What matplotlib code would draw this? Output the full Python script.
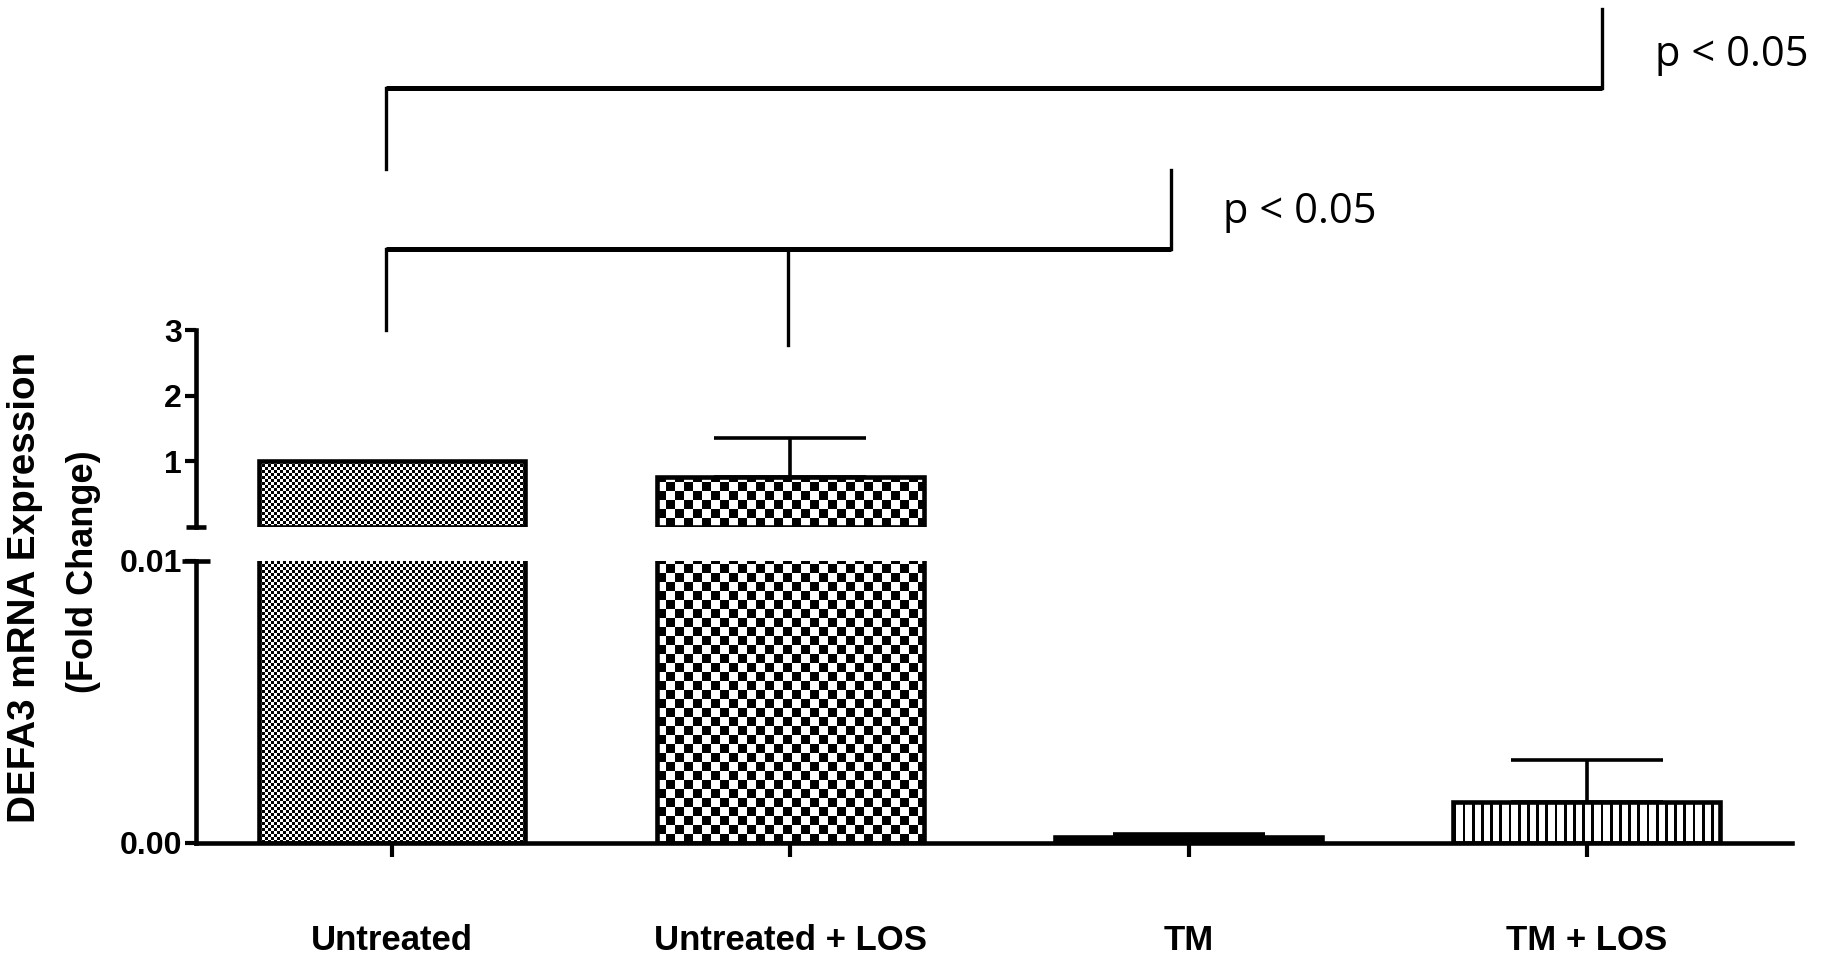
import numpy as np
import matplotlib
matplotlib.use("Agg")
from matplotlib import pyplot as plt

# data
groups = ["Untreated", "Untreated + LOS", "TM", "TM + LOS"]
fold_change = [1.0, 0.76, 0.0002, 0.00145]
sem = [0.0, 0.60, 0.00012, 0.00149]
fills = ["fine", "coarse", "solid", "stripes"]

upper_ticks = [1, 2, 3]
lower_ticks = [0.0, 0.01]
lower_labels = ["0.00", "0.01"]

# significance brackets (x in category units, y in upper-panel units)
sig_left = [-0.015, -0.015]
sig_right = [1.956, 3.038]
sig_mid = [0.994, None]
sig_y = [4.23, 6.69]
sig_left_bottom = [3.0, 5.45]
sig_mid_bottom = [2.77, None]
sig_right_top = [5.44, 7.89]
sig_text = ["p < 0.05", "p < 0.05"]
sig_text_x = [2.086, 3.171]
sig_text_y = [4.63, 7.02]

plt.rcParams['font.family'] = ['Liberation Sans', 'DejaVu Sans']

W, H = 1830, 958
fig = plt.figure(figsize=(W / 100, H / 100), dpi=100)

left = 196 / W
width = (1792 - 196) / W
ax_lo = fig.add_axes([left, (H - 843) / H, width, (843 - 561) / H])
ax_hi = fig.add_axes([left, (H - 527) / H, width, (527 - 330) / H])

xlim = (-0.492, 3.515)
ax_lo.set_xlim(*xlim)
ax_hi.set_xlim(*xlim)
ax_lo.set_ylim(0, 0.01)
ax_hi.set_ylim(0, 3)

x = np.arange(len(groups))
bw = 0.67
lw = 3.3


def fill_bar(ax, bar, kind):
    x0, y0 = bar.get_x(), bar.get_y()
    x1, y1 = x0 + bar.get_width(), y0 + bar.get_height()
    lo, hi = ax.get_ylim()
    y0c, y1c = max(y0, lo), min(y1, hi)
    if y1c <= y0c:
        return
    (px0, py0), (px1, py1) = ax.transData.transform([(x0, y0c), (x1, y1c)])
    w = max(int(round(px1 - px0)), 1)
    h = max(int(round(py1 - py0)), 1)
    jj, ii = np.meshgrid(np.arange(w), np.arange(h))
    if kind == "fine":
        img = (ii // 3 + jj // 3) % 2
    elif kind == "coarse":
        img = (ii // 9 + jj // 9) % 2
    elif kind == "stripes":
        img = ((jj % 9.2) < 2.7).astype(int)
    else:
        img = np.ones((h, w))
    ax.imshow(img, cmap="gray_r", vmin=0, vmax=1, extent=(x0, x1, y0c, y1c),
              origin="lower", interpolation="nearest", aspect="auto",
              zorder=1, clip_path=bar)


for ax, floor in [(ax_lo, None), (ax_hi, ax_lo.get_ylim()[1])]:
    for i in range(len(groups)):
        if floor is not None and fold_change[i] <= floor:
            continue
        bar = ax.bar(x[i], fold_change[i], width=bw, facecolor="none",
                     edgecolor="black", linewidth=lw, zorder=2)[0]
        fill_bar(ax, bar, fills[i])
        if sem[i] > 0:
            ax.errorbar(x[i], fold_change[i], yerr=[[0], [sem[i]]], fmt="none",
                        ecolor="black", elinewidth=2.6, capsize=55,
                        capthick=2.6, zorder=0.5)
    ax.set_xlim(*xlim)

ax_lo.set_ylim(0, 0.01)
ax_hi.set_ylim(0, 3)

for ax in (ax_lo, ax_hi):
    ax.spines["top"].set_visible(False)
    ax.spines["right"].set_visible(False)
    ax.spines["left"].set_linewidth(lw)
    ax.spines["bottom"].set_linewidth(lw)
    ax.tick_params(axis="y", length=8, width=3, pad=2)
ax_hi.spines["bottom"].set_visible(False)

ax_hi.set_yticks(upper_ticks)
ax_hi.set_yticklabels([str(t) for t in upper_ticks], fontweight="bold", fontsize=23)
ax_hi.set_xticks([])
ax_lo.set_yticks(lower_ticks)
ax_lo.set_yticklabels(lower_labels, fontweight="bold", fontsize=23)
ax_lo.set_xticks(x)
ax_lo.set_xticklabels(groups, fontweight="bold", fontsize=25)
ax_lo.tick_params(axis="x", length=10, width=3, pad=48)

# axis break marks
ax_hi.plot(0, 0, marker="_", ms=15, mew=lw, color="black",
           transform=ax_hi.transAxes, clip_on=False)
ax_lo.plot(0, 1, marker="_", ms=20, mew=lw, color="black",
           transform=ax_lo.transAxes, clip_on=False)

# y label, two lines
fig.text(35 / W, (H - 587) / H, "DEFA3 mRNA Expression", rotation=90,
         rotation_mode="anchor", ha="center", va="baseline",
         fontsize=27.8, fontweight="bold")
fig.text(93 / W, (H - 572) / H, "(Fold Change)", rotation=90,
         rotation_mode="anchor", ha="center", va="baseline",
         fontsize=26, fontweight="bold")

# significance brackets
for k in range(len(sig_y)):
    ax_hi.plot([sig_left[k], sig_right[k]], [sig_y[k], sig_y[k]], color="black",
               lw=3.6, clip_on=False, solid_capstyle="butt")
    ax_hi.plot([sig_left[k], sig_left[k]], [sig_y[k], sig_left_bottom[k]],
               color="black", lw=2.4, clip_on=False)
    ax_hi.plot([sig_right[k], sig_right[k]], [sig_y[k], sig_right_top[k]],
               color="black", lw=2.4, clip_on=False)
    if sig_mid[k] is not None:
        ax_hi.plot([sig_mid[k], sig_mid[k]], [sig_y[k], sig_mid_bottom[k]],
                   color="black", lw=2.4, clip_on=False)
    ax_hi.text(sig_text_x[k], sig_text_y[k], sig_text[k], ha="left",
               va="baseline", fontsize=30, family=["Open Sans", "DejaVu Sans"],
               clip_on=False)

fig.savefig("out.png", dpi=100)
